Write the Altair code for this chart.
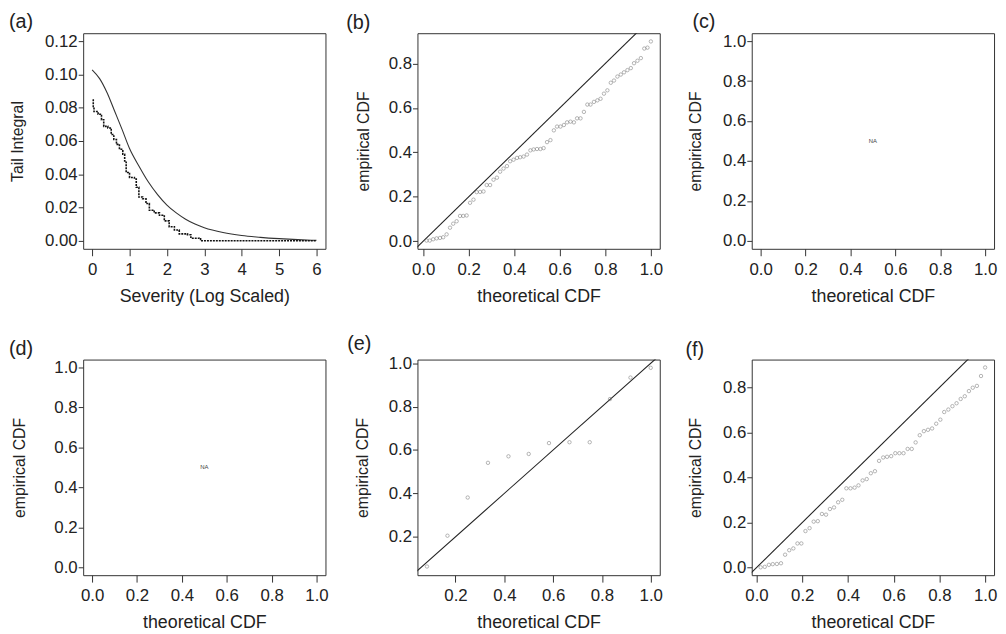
import altair as alt
import pandas as pd

FONT = "Liberation Sans"
INK = "#222222"

# ---------------- panel (a): tail integral ----------------
a_theo_x = [0, 0.2, 0.4, 0.6, 0.8, 1.0, 1.25, 1.5, 1.75, 2.0, 2.25, 2.5, 2.75, 3.0,
            3.5, 4.0, 4.5, 5.0, 5.5, 6.0]
a_theo_y = [0.1028, 0.0975, 0.089, 0.078, 0.067, 0.0555, 0.045, 0.0355, 0.0278, 0.0215,
            0.0168, 0.013, 0.0101, 0.0079, 0.0050, 0.0032, 0.0021, 0.0013, 0.0007, 0.0003]
a_emp_x = [0.01, 0.03, 0.05, 0.16, 0.25, 0.31, 0.42, 0.51, 0.58, 0.65, 0.73, 0.82, 0.87,
           0.91, 1.0, 1.13, 1.18, 1.25, 1.35, 1.44, 1.53, 1.66, 1.80, 1.93, 2.06, 2.20,
           2.33, 2.55, 2.64, 2.86, 2.90, 6.0]
a_emp_y = [0.0846, 0.0807, 0.0777, 0.0761, 0.0728, 0.0688, 0.0678, 0.0639, 0.0609, 0.058,
           0.055, 0.052, 0.048, 0.0411, 0.0381, 0.0372, 0.0322, 0.0263, 0.0253, 0.0224,
           0.0184, 0.0168, 0.0154, 0.012, 0.0085, 0.0065, 0.0042, 0.0037, 0.0016, 0.0012,
           0.0, 0.0]

# ---------------- panel (b) ----------------
b_x = [0.015, 0.029, 0.044, 0.059, 0.074, 0.088, 0.103, 0.118, 0.132, 0.147,
       0.162, 0.176, 0.191, 0.206, 0.221, 0.235, 0.25, 0.265, 0.279, 0.294,
       0.309, 0.324, 0.338, 0.353, 0.368, 0.382, 0.397, 0.412, 0.426, 0.441,
       0.456, 0.471, 0.485, 0.5, 0.515, 0.529, 0.544, 0.559, 0.574, 0.588,
       0.603, 0.618, 0.632, 0.647, 0.662, 0.676, 0.691, 0.706, 0.721, 0.735,
       0.75, 0.765, 0.779, 0.794, 0.809, 0.824, 0.838, 0.853, 0.868, 0.882,
       0.897, 0.912, 0.926, 0.941, 0.956, 0.971, 0.985, 1.0]
b_y = [0.003, 0.003, 0.009, 0.013, 0.015, 0.018, 0.031, 0.061, 0.079, 0.090,
       0.114, 0.114, 0.116, 0.173, 0.187, 0.221, 0.222, 0.224, 0.253, 0.253,
       0.277, 0.286, 0.313, 0.327, 0.338, 0.360, 0.367, 0.375, 0.378, 0.381,
       0.390, 0.409, 0.413, 0.415, 0.415, 0.419, 0.446, 0.455, 0.499, 0.516,
       0.516, 0.523, 0.535, 0.538, 0.535, 0.553, 0.553, 0.582, 0.615, 0.615,
       0.627, 0.634, 0.641, 0.664, 0.679, 0.713, 0.723, 0.741, 0.750, 0.760,
       0.770, 0.779, 0.801, 0.812, 0.824, 0.867, 0.871, 0.899]

# ---------------- panel (e) ----------------
e_x = [0.083, 0.167, 0.25, 0.333, 0.417, 0.5, 0.583, 0.667, 0.75, 0.833, 0.917, 1.0]
e_y = [0.063, 0.205, 0.381, 0.541, 0.571, 0.582, 0.632, 0.636, 0.636, 0.835, 0.934, 0.979]

# ---------------- panel (f) ----------------
f_x = [0.018, 0.036, 0.054, 0.071, 0.089, 0.107, 0.125, 0.143, 0.161, 0.179,
       0.196, 0.214, 0.232, 0.25, 0.268, 0.286, 0.304, 0.321, 0.339, 0.357,
       0.375, 0.393, 0.411, 0.429, 0.446, 0.464, 0.482, 0.5, 0.518, 0.536,
       0.554, 0.571, 0.589, 0.607, 0.625, 0.643, 0.661, 0.679, 0.696, 0.714,
       0.732, 0.75, 0.768, 0.786, 0.804, 0.821, 0.839, 0.857, 0.875, 0.893,
       0.911, 0.929, 0.946, 0.964, 0.982, 1.0]
f_y = [0.001, 0.003, 0.012, 0.015, 0.016, 0.019, 0.057, 0.077, 0.085, 0.107,
       0.107, 0.162, 0.175, 0.204, 0.206, 0.238, 0.235, 0.260, 0.267, 0.290,
       0.301, 0.352, 0.352, 0.355, 0.365, 0.387, 0.393, 0.419, 0.428,
       0.474, 0.489, 0.492, 0.495, 0.508, 0.508, 0.508, 0.527, 0.527, 0.556,
       0.588, 0.606, 0.612, 0.618, 0.639, 0.657, 0.691, 0.702, 0.717, 0.730,
       0.749, 0.761, 0.784, 0.799, 0.807, 0.851, 0.889]

# reference line y = x
ref_x = [-0.2, 1.2]
ref_y = [-0.2, 1.2]

cdf_ticks = [0.0, 0.2, 0.4, 0.6, 0.8, 1.0]
tail_ticks = [0.0, 0.02, 0.04, 0.06, 0.08, 0.10, 0.12]
sev_ticks = [0, 1, 2, 3, 4, 5, 6]

W, H = 245, 218


def encodings(xdom, ydom, xticks, yticks, xfmt, yfmt, xtitle, ytitle, ytp):
    x = alt.X("x:Q",
              scale=alt.Scale(domain=xdom, nice=False, zero=False),
              axis=alt.Axis(values=xticks, format=xfmt, title=xtitle, grid=False,
                            domain=False, tickSize=7, labelPadding=6, titlePadding=10,
                            labelFlush=False, labelOverlap=False))
    y = alt.Y("y:Q",
              scale=alt.Scale(domain=ydom, nice=False, zero=False),
              axis=alt.Axis(values=yticks, format=yfmt, title=ytitle, grid=False,
                            domain=False, tickSize=5, labelPadding=1, titlePadding=ytp,
                            labelFlush=False, labelOverlap=False))
    return x, y


def df(xs, ys):
    return pd.DataFrame({"x": xs, "y": ys})


def points(xs, ys, x, y):
    return alt.Chart(df(xs, ys)).mark_point(
        shape="circle", filled=False, size=12, strokeWidth=0.7, color="#6a6a6a"
    ).encode(x=x, y=y)


def refline(x, y):
    return alt.Chart(df(ref_x, ref_y)).mark_line(
        clip=True, color=INK, strokeWidth=1.1
    ).encode(x=x, y=y)


def na_text(x, y):
    return alt.Chart(pd.DataFrame({"x": [0.5], "y": [0.5], "t": ["NA"]})).mark_text(
        fontSize=6, color="#444444", font=FONT
    ).encode(x=x, y=y, text="t:N")


def title(label, dx):
    return alt.TitleParams(text=label, anchor="start", frame="group", dx=dx,
                           fontSize=20, fontWeight="normal", font=FONT, color=INK,
                           baseline="alphabetic", offset=-16)


# panel (a)
xa, ya = encodings([-0.24, 6.24], [-0.0048, 0.1248], sev_ticks, tail_ticks, "d", ".2f",
                   "Severity (Log Scaled)", "Tail Integral", 19)
pa = alt.layer(
    alt.Chart(df(a_theo_x, a_theo_y)).mark_line(
        color="#333333", strokeWidth=1.1, interpolate="monotone").encode(x=xa, y=ya),
    alt.Chart(df(a_emp_x, a_emp_y)).mark_line(
        color="#111111", strokeWidth=1.6, interpolate="step-after",
        strokeDash=[2, 1]).encode(x=xa, y=ya),
).properties(width=W, height=H, title=title("(a)", -75))

# panel (b)
xb, yb = encodings([-0.025, 1.039], [-0.034, 0.936], cdf_ticks, cdf_ticks[:5], ".1f", ".1f",
                   "theoretical CDF", "empirical CDF", 17)
pb = alt.layer(refline(xb, yb), points(b_x, b_y, xb, yb)).properties(
    width=W, height=H, title=title("(b)", -72))

# panel (c)
xc, yc = encodings([-0.04, 1.04], [-0.04, 1.04], cdf_ticks, cdf_ticks, ".1f", ".1f",
                   "theoretical CDF", "empirical CDF", 19)
pc = alt.layer(na_text(xc, yc)).properties(width=W, height=H, title=title("(c)", -60))

# panel (d)
xd, yd = encodings([-0.04, 1.04], [-0.04, 1.04], cdf_ticks, cdf_ticks, ".1f", ".1f",
                   "theoretical CDF", "empirical CDF", 27)
pd_ = alt.layer(na_text(xd, yd)).properties(width=W, height=H, title=title("(d)", -75))

# panel (e)
xe, ye = encodings([0.044, 1.037], [0.023, 1.017], cdf_ticks[1:], cdf_ticks[1:], ".1f", ".1f",
                   "theoretical CDF", "empirical CDF", 18)
pe = alt.layer(refline(xe, ye), points(e_x, e_y, xe, ye)).properties(
    width=W, height=H, title=title("(e)", -71))

# panel (f)
xf, yf = encodings([-0.021, 1.039], [-0.034, 0.924], cdf_ticks, cdf_ticks[:5], ".1f", ".1f",
                   "theoretical CDF", "empirical CDF", 19)
pf = alt.layer(refline(xf, yf), points(f_x, f_y, xf, yf)).properties(
    width=W, height=H, title=title("(f)", -67))

chart = alt.concat(
    pa, pb, pc, pd_, pe, pf, columns=3,
    spacing=alt.RowColnumber(row=112, column=93), bounds="flush"
).properties(
    padding=0, background="white"
).configure_view(
    stroke="#333333", strokeWidth=1
).configure_axis(
    labelFont=FONT, titleFont=FONT, labelFontSize=17, labelColor=INK, titleColor=INK,
    tickColor="#333333", tickWidth=1, titleFontWeight="normal"
).configure_axisX(
    titleFontSize=18
).configure_axisY(
    titleFontSize=16
)

chart.save("out.html", embed_options={"renderer": "svg", "actions": False})
